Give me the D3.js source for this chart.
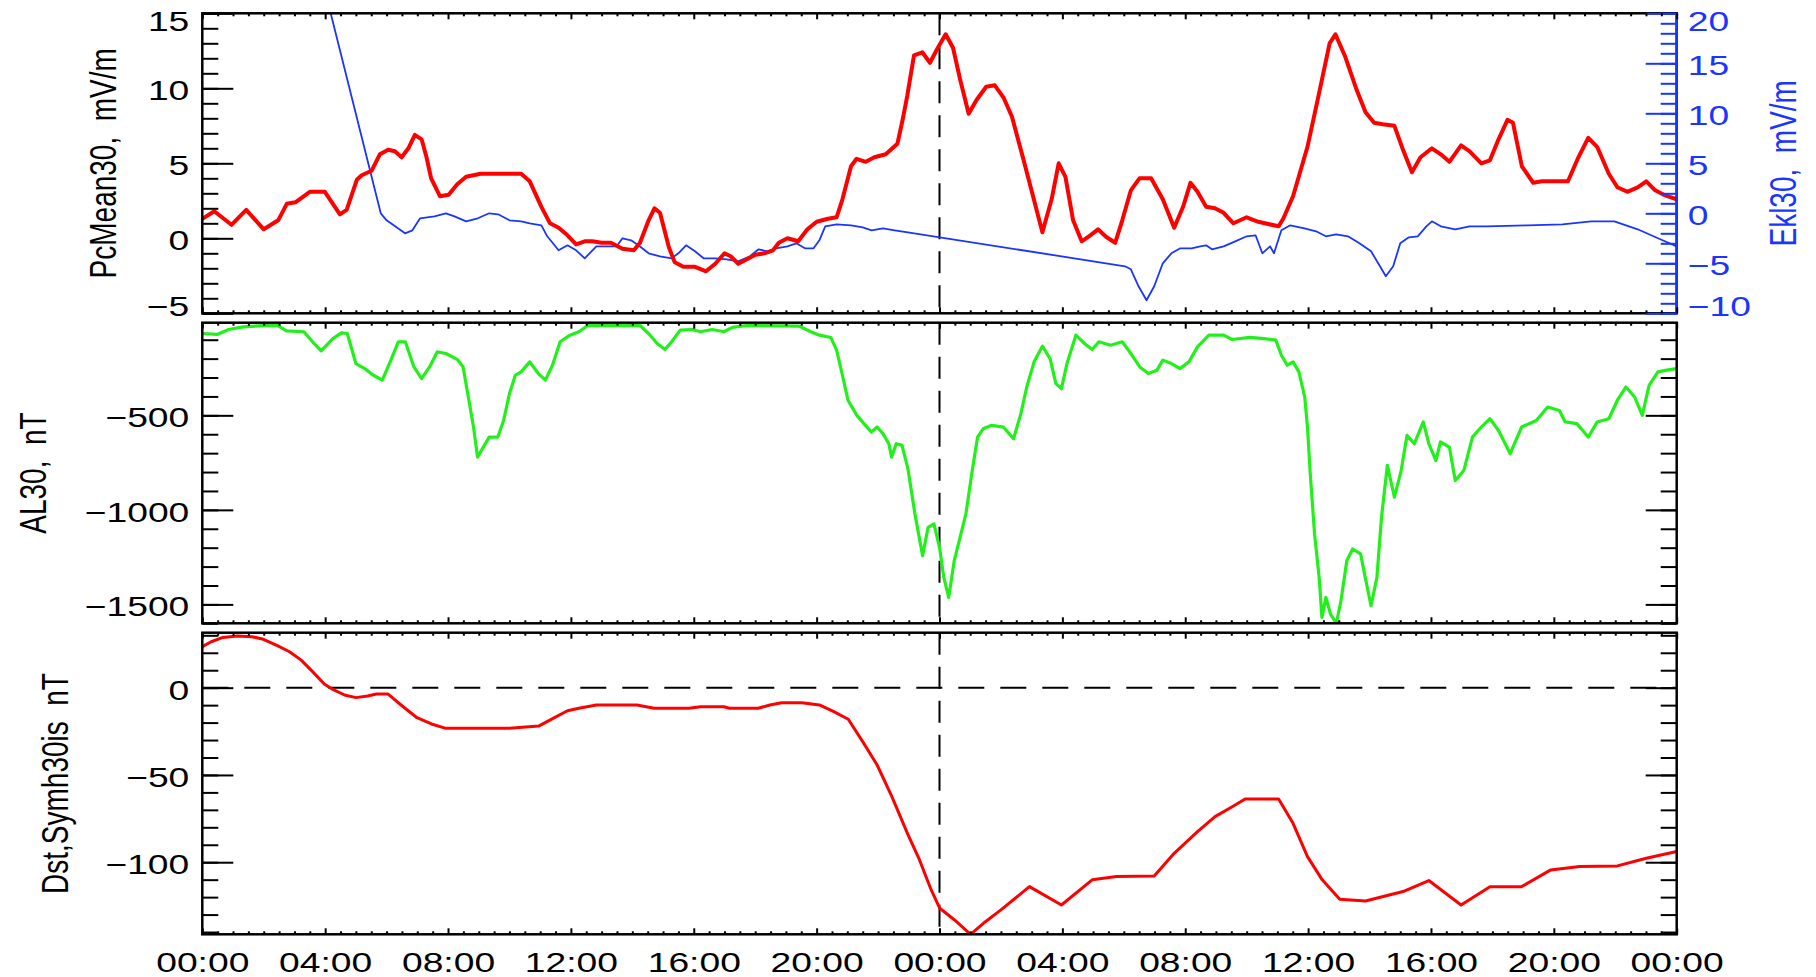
<!DOCTYPE html>
<html>
<head>
<meta charset="utf-8">
<script src="https://cdn.jsdelivr.net/npm/d3@7"></script>
<style>
html, body { margin: 0; padding: 0; background: #fff; }
svg { display: block; }
text { font-family: "Liberation Sans", Arial, sans-serif; font-size: 28px; }
</style>
</head>
<body>
<div id="root"></div>
<script>
// time is hours from the first 00:00 (two days shown)
var hourTicks = [0, 4, 8, 12, 16, 20, 24, 28, 32, 36, 40, 44, 48];
var timeLabels = ["00:00", "04:00", "08:00", "12:00", "16:00", "20:00", "00:00",
                  "04:00", "08:00", "12:00", "16:00", "20:00", "00:00"];

var pcTicks = [-5, 0, 5, 10, 15];
var ekTicks = [-10, -5, 0, 5, 10, 15, 20];
var alTicks = [-1500, -1000, -500];
var dstTicks = [-100, -50, 0];

// PcMean30, mV/m  [hour, value]
var pcMean30 = [[0,1.3],[0.39,1.8],[0.95,0.9],[1.43,1.9],[2.0,0.6],[2.47,1.2],[2.75,2.3],[3.03,2.4],
  [3.5,3.1],[3.99,3.1],[4.48,1.6],[4.7,1.9],[5.03,3.9],[5.19,4.2],[5.51,4.5],[5.78,5.6],[6.05,5.9],
  [6.27,5.8],[6.49,5.4],[6.71,6.0],[6.92,6.9],[7.14,6.6],[7.3,5.4],[7.45,4.0],[7.74,2.8],[8.02,2.9],
  [8.3,3.6],[8.59,4.1],[9.06,4.3],
  [9.81,4.3],[10.38,4.3],[10.66,3.8],[11.04,2.1],[11.32,1.0],[11.6,0.7],[11.89,0.2],[12.17,-0.4],
  [12.45,-0.2],[12.7,-0.2],[13.0,-0.3],[13.3,-0.3],[13.68,-0.7],[14.05,-0.8],[14.25,-0.3],[14.53,1.2],
  [14.72,2.0],[14.9,1.7],[15.19,-0.6],[15.38,-1.6],[15.66,-1.9],[16.04,-1.9],[16.4,-2.2],[16.7,-1.7],
  [17.0,-1.0],[17.2,-1.2],[17.45,-1.7],[17.73,-1.4],[18.01,-1.1],[18.3,-1.0],[18.58,-0.8],[18.77,-0.3],
  [19.05,0.0],[19.4,-0.2],[19.7,0.6],[20.0,1.1],[20.37,1.3],[20.65,1.4],[20.84,2.6],[21.12,4.8],
  [21.3,5.3],[21.6,5.1],[21.88,5.4],[22.25,5.6],[22.63,6.3],[22.8,7.9],[22.95,9.5],[23.17,12.2],
  [23.44,12.4],[23.69,11.7],[23.92,12.6],[24.2,13.6],[24.44,12.7],[24.67,10.6],[24.95,8.3],[25.2,9.2],
  [25.52,10.1],[25.8,10.2],[26.08,9.4],[26.36,8.1],[26.74,5.2],[27.02,3.0],[27.35,0.4],[27.65,2.6],
  [27.88,5.0],[28.1,4.1],[28.35,1.2],[28.63,-0.2],[28.91,0.2],[29.16,0.6],[29.42,0.1],[29.72,-0.3],
  [29.95,1.2],[30.23,3.2],[30.51,4.0],[30.89,4.0],[31.27,2.6],[31.64,0.7],[31.93,2.1],[32.17,3.7],
  [32.4,3.1],[32.68,2.1],[32.97,2.0],[33.25,1.7],[33.57,1.0],[34.0,1.4],[34.38,1.1],[35.04,0.8],
  [35.19,1.3],[35.51,2.8],[35.98,6.1],[36.36,9.7],[36.7,13.0],[36.89,13.6],[37.21,12.1],[37.58,9.9],
  [37.87,8.4],[38.15,7.7],[38.43,7.6],[38.81,7.5],[39.09,5.9],[39.38,4.4],[39.66,5.4],[40.03,6.0],
  [40.32,5.6],[40.6,5.1],[40.98,6.2],[41.26,5.8],[41.64,5.0],[41.92,5.2],[42.2,6.6],[42.49,7.9],
  [42.67,7.7],[42.96,4.8],[43.33,3.7],[43.61,3.8],[44.46,3.8],[44.8,5.4],[45.12,6.7],[45.41,6.1],
  [45.79,4.3],[46.07,3.4],[46.39,3.1],[46.73,3.4],[47.01,3.8],[47.3,3.2],[47.58,2.9],[48.0,2.6]];

// Ekl30, mV/m  [hour, value]
var ekl30 = [[3.9,23.4],[4.18,20],[5.81,0.0],[6.0,-0.7],[6.6,-2.0],[6.84,-1.7],
  [7.09,-0.5],[7.56,-0.3],[7.93,0.0],[8.21,-0.3],[8.59,-0.8],[8.97,-0.5],[9.34,0.0],[9.63,-0.1],
  [10.0,-0.7],[10.38,-0.8],[10.66,-1.0],[11.04,-1.2],[11.23,-2.3],[11.6,-3.7],[11.89,-3.2],[12.17,-3.7],
  [12.45,-4.5],[12.83,-3.3],[13.2,-3.3],[13.49,-3.3],[13.68,-2.5],[13.96,-2.7],[14.24,-3.3],[14.53,-4.0],
  [14.9,-4.3],[15.28,-4.5],[15.5,-4.0],[15.75,-3.2],[16.04,-3.8],[16.32,-4.5],[16.7,-4.5],[17.07,-4.6],
  [17.45,-4.8],[17.83,-4.3],[18.11,-3.6],[18.4,-3.8],[18.68,-3.5],[19.05,-3.3],[19.34,-3.0],[19.62,-3.5],
  [19.9,-3.5],[20.09,-2.7],[20.28,-1.3],[20.65,-1.1],[21.12,-1.2],[21.5,-1.4],[21.79,-1.7],[22.16,-1.5],
  [22.54,-1.7],[22.97,-1.9],[30.04,-5.3],[30.23,-5.6],[30.48,-7.3],[30.74,-8.7],[30.99,-7.3],[31.27,-5.0],
  [31.55,-4.0],[31.84,-3.5],[32.21,-3.5],[32.49,-3.3],[32.68,-3.2],[32.87,-3.6],[33.25,-3.3],[33.63,-2.8],
  [34.0,-2.3],[34.29,-2.2],[34.51,-4.0],[34.76,-3.3],[34.89,-4.0],[35.13,-1.7],[35.42,-1.2],[35.88,-1.5],
  [36.26,-1.8],[36.58,-2.3],[36.91,-2.1],[37.3,-2.3],[37.67,-3.0],[38.05,-3.8],[38.34,-5.3],[38.53,-6.3],
  [38.77,-5.3],[39.0,-3.0],[39.28,-2.4],[39.57,-2.3],[39.85,-1.3],[40.03,-0.8],[40.32,-1.3],[40.79,-1.6],
  [41.26,-1.3],[41.82,-1.3],[43.15,-1.2],[44.28,-1.1],[45.22,-0.8],[45.97,-0.8],[46.73,-1.6],[47.39,-2.5],
  [48.0,-3.3]];

// AL30, nT  [hour, value]
var al30 = [[0,-67],[0.48,-72],[0.86,-46],[1.33,-32],[2.0,-25],[2.46,-25],[2.74,-53],[3.31,-58],
  [3.59,-111],[3.87,-159],[4.25,-94],[4.53,-64],[4.72,-67],[5.0,-226],[5.29,-253],[5.57,-288],
  [5.86,-314],[6.14,-208],[6.38,-111],[6.61,-111],[6.89,-244],[7.14,-306],[7.4,-244],[7.65,-164],
  [7.93,-173],[8.31,-205],[8.49,-244],[8.68,-420],[8.83,-562],[8.96,-721],[9.15,-668],[9.34,-615],
  [9.62,-615],[9.81,-527],[10.0,-385],[10.19,-288],[10.38,-270],[10.66,-217],[10.94,-279],[11.17,-314],
  [11.4,-235],[11.65,-111],[11.97,-76],[12.26,-58],[12.55,-25],[13.02,-25],[14.25,-25],[14.53,-67],
  [14.81,-120],[15.06,-152],[15.28,-111],[15.56,-49],[15.94,-46],[16.22,-58],[16.6,-46],[16.98,-58],
  [17.26,-35],[17.73,-25],[19.43,-28],[19.81,-58],[20.09,-76],[20.46,-88],[20.65,-155],[20.84,-288],
  [21.02,-420],[21.31,-500],[21.59,-553],[21.78,-588],[21.97,-562],[22.16,-597],[22.35,-650],[22.44,-721],
  [22.59,-650],[22.78,-659],[22.97,-780],[23.2,-1021],[23.45,-1242],[23.63,-1092],[23.82,-1074],
  [24.0,-1198],[24.14,-1357],[24.3,-1463],[24.48,-1269],[24.67,-1145],[24.86,-1021],[25.05,-809],
  [25.24,-615],[25.42,-571],[25.7,-553],[26.08,-562],[26.41,-624],[26.65,-491],[26.84,-350],[27.08,-217],
  [27.35,-134],[27.6,-200],[27.79,-332],[27.97,-359],[28.15,-226],[28.44,-76],[28.72,-120],[28.97,-152],
  [29.19,-111],[29.57,-129],[29.95,-111],[30.23,-173],[30.52,-244],[30.8,-279],[31.08,-261],[31.27,-208],
  [31.55,-226],[31.83,-253],[32.12,-217],[32.4,-138],[32.77,-76],[33.25,-76],[33.53,-99],[34.1,-88],
  [34.57,-94],[34.95,-102],[35.13,-182],[35.32,-235],[35.51,-217],[35.7,-270],[35.89,-403],[35.98,-562],
  [36.07,-809],[36.21,-1127],[36.36,-1357],[36.45,-1569],[36.58,-1463],[36.73,-1551],[36.92,-1600],
  [37.07,-1481],[37.26,-1269],[37.45,-1207],[37.71,-1233],[37.86,-1357],[38.05,-1507],[38.24,-1357],
  [38.39,-1039],[38.58,-765],[38.81,-933],[39.03,-792],[39.22,-606],[39.46,-650],[39.75,-535],[39.93,-650],
  [40.16,-739],[40.31,-641],[40.6,-668],[40.79,-845],[41.07,-792],[41.35,-615],[41.64,-562],[41.92,-518],
  [42.2,-580],[42.58,-703],[42.95,-562],[43.43,-527],[43.8,-456],[44.18,-474],[44.37,-535],[44.75,-544],
  [45.12,-615],[45.41,-535],[45.79,-518],[46.07,-420],[46.35,-350],[46.63,-403],[46.88,-500],[47.1,-341],
  [47.39,-270],[47.67,-261],[48.0,-253]];

// Dst / SymH 30, nT  [hour, value]
var dstSymh = [[0,23.5],[0.29,26.3],[0.67,28.8],[1.14,29.6],[1.62,29.2],[1.99,27.7],[2.46,23.9],
  [2.84,20.6],[3.22,15.8],[3.59,9.2],[3.97,2.1],[4.25,-1.0],[4.63,-4.2],[5.0,-5.7],[5.38,-4.8],
  [5.67,-3.6],[6.04,-3.6],[6.51,-10.5],[6.99,-17.2],[7.46,-20.8],[7.93,-23.3],[8.5,-23.3],[10.0,-23.3],
  [10.95,-22.0],[11.42,-17.6],[11.89,-13.2],[12.26,-11.8],[12.83,-9.9],[14.15,-9.9],[14.71,-11.8],
  [15.84,-11.8],[16.22,-10.9],[16.98,-10.9],[17.16,-11.8],[18.1,-11.8],[18.48,-9.9],[18.86,-8.6],
  [19.52,-8.6],[20.09,-9.9],[20.56,-13.7],[21.03,-18.1],[21.5,-30.9],[21.97,-44.3],[22.45,-62.4],
  [22.97,-84.0],[23.35,-98.7],[23.73,-115.9],[24.01,-126.4],[24.49,-133.1],[25.01,-141.3],[25.43,-135],
  [26.0,-127.3],[26.93,-114],[27.97,-124.5],[28.97,-110.1],[29.76,-108.2],[30.99,-107.9],[31.64,-94.9],
  [32.4,-82.5],[32.97,-73.9],[33.53,-68.2],[33.95,-63.8],[35.04,-63.8],[35.51,-77.7],[35.98,-96.8],
  [36.46,-110.1],[37.03,-121.2],[37.87,-122.2],[39.09,-116.8],[39.93,-110.5],[40.98,-124.5],
  [41.92,-114],[42.95,-114],[43.9,-104.4],[44.84,-102.5],[46.07,-102.1],[47.01,-97.7],[48.0,-93.9]];

var W = 1816, H = 977;
var left = 202.3, right = 1676.7;
var sx = 1.33; // the original lettering is stretched sideways
var blue = "#1a35ff", red = "#ff0000", green = "#22f01a";

var panels = [
  { top: 13.3, bottom: 313.3 },
  { top: 322.7, bottom: 623.3 },
  { top: 632.7, bottom: 934.3 }
];

var svg = d3.select("#root").append("svg").attr("width", W).attr("height", H);

var x = d3.scaleLinear().domain([0, 48]).range([left, right]);
var yPc = d3.scaleLinear().domain([-5, 15]).range([panels[0].bottom, panels[0].top]);
var yEk = d3.scaleLinear().domain([-10, 20]).range([panels[0].bottom, panels[0].top]);
var yAl = d3.scaleLinear().domain([-1600, -10]).range([panels[1].bottom, panels[1].top]);
var yDst = d3.scaleLinear().domain([-141.3, 31.5]).range([panels[2].bottom, panels[2].top]);

var fmt = d3.format("");

function yAxis(scale, majors, minors, xpos, side, color, labels, p) {
  var mk = side === "left" ? d3.axisLeft : d3.axisRight;
  var gMin = svg.append("g").attr("transform", "translate(" + xpos + ",0)")
    .call(mk(scale).tickValues(minors).tickSizeInner(-16).tickSizeOuter(0).tickFormat(""));
  var gMaj = svg.append("g").attr("transform", "translate(" + xpos + ",0)")
    .call(mk(scale).tickValues(majors).tickSizeInner(-31).tickSizeOuter(0)
      .tickPadding(side === "left" ? 13 : 11).tickFormat(labels ? fmt : ""));
  [gMin, gMaj].forEach(function(g) {
    g.attr("font-size", null).attr("font-family", null);
    g.select(".domain").remove();
    g.selectAll("line").attr("stroke", color).attr("stroke-width", 2);
  });
  gMaj.selectAll("text")
    .attr("fill", color)
    .attr("dy", null)
    .attr("y", function(d) {
      var b = scale(d) + 11.5;
      b = Math.max(p.top + 17.5, Math.min(p.bottom + 2, b));
      return b - scale(d);
    })
    .attr("x", function() { return +d3.select(this).attr("x") / sx; })
    .attr("transform", "scale(" + sx + ",1)");
}

function xAxes(p, withLabels) {
  var minors = d3.range(0, 48.01, 0.5).filter(function(h) { return h % 4 !== 0; });
  var pairs = [[d3.axisBottom, p.bottom], [d3.axisTop, p.top]];
  pairs.forEach(function(pr) {
    var gm = svg.append("g").attr("transform", "translate(0," + pr[1] + ")")
      .call(pr[0](x).tickValues(minors).tickSizeInner(-3).tickSizeOuter(0).tickFormat(""));
    var gM = svg.append("g").attr("transform", "translate(0," + pr[1] + ")")
      .call(pr[0](x).tickValues(hourTicks).tickSizeInner(-6).tickSizeOuter(0)
        .tickFormat(function(d, i) { return (withLabels && pr[1] === p.bottom) ? timeLabels[i] : ""; }));
    [gm, gM].forEach(function(g) {
      g.attr("font-size", null).attr("font-family", null);
      g.select(".domain").remove();
      g.selectAll("line").attr("stroke", "#000").attr("stroke-width", 2);
    });
    gM.selectAll("text").attr("fill", "#000").attr("dy", null).attr("y", 37.4)
      .attr("transform", "scale(" + sx + ",1)");
  });
}

function title(txt, bx, cy, color) {
  svg.append("text")
    .attr("transform", "translate(" + bx + "," + cy + ") scale(" + sx + ",1) rotate(-90)")
    .attr("text-anchor", "middle")
    .attr("fill", color)
    .style("white-space", "pre")
    .text(txt);
}

// clip regions
panels.forEach(function(p, i) {
  svg.append("clipPath").attr("id", "clip" + i)
    .append("rect").attr("x", left).attr("y", p.top)
    .attr("width", right - left).attr("height", p.bottom - p.top);
});

function drawLine(data, y, color, width, clip) {
  svg.append("path")
    .datum(data)
    .attr("clip-path", "url(#" + clip + ")")
    .attr("fill", "none")
    .attr("stroke", color)
    .attr("stroke-width", width)
    .attr("stroke-linejoin", "round")
    .attr("d", d3.line().x(function(d) { return x(d[0]); }).y(function(d) { return y(d[1]); }));
}

// dashed guides
panels.forEach(function(p) {
  svg.append("line")
    .attr("x1", x(24)).attr("x2", x(24)).attr("y1", p.top).attr("y2", p.bottom)
    .attr("stroke", "#000").attr("stroke-width", 2).attr("stroke-dasharray", "22,12");
});
svg.append("line")
  .attr("x1", left).attr("x2", right).attr("y1", yDst(0)).attr("y2", yDst(0))
  .attr("stroke", "#000").attr("stroke-width", 2).attr("stroke-dasharray", "26,16");

// series
drawLine(ekl30, yEk, blue, 1.8, "clip0");
drawLine(pcMean30, yPc, red, 4, "clip0");
drawLine(al30, yAl, green, 3.2, "clip1");
drawLine(dstSymh, yDst, red, 3, "clip2");

// frames
panels.forEach(function(p) {
  svg.append("rect").attr("x", left).attr("y", p.top)
    .attr("width", right - left).attr("height", p.bottom - p.top)
    .attr("fill", "none").attr("stroke", "#000").attr("stroke-width", 2.5);
});
svg.append("line").attr("x1", right).attr("x2", right)
  .attr("y1", panels[0].top).attr("y2", panels[0].bottom)
  .attr("stroke", blue).attr("stroke-width", 2.5);

// axes
yAxis(yPc, pcTicks, d3.range(-5, 15.01, 1), left, "left", "#000", true, panels[0]);
yAxis(yEk, ekTicks, d3.range(-10, 20.01, 1), right, "right", blue, true, panels[0]);
yAxis(yAl, alTicks, d3.range(-1600, -99, 100), left, "left", "#000", true, panels[1]);
yAxis(yAl, alTicks, d3.range(-1600, -99, 100), right, "right", "#000", false, panels[1]);
yAxis(yDst, dstTicks, d3.range(-140, 30.01, 10), left, "left", "#000", true, panels[2]);
yAxis(yDst, dstTicks, d3.range(-140, 30.01, 10), right, "right", "#000", false, panels[2]);

xAxes(panels[0], false);
xAxes(panels[1], false);
xAxes(panels[2], true);

title("PcMean30,  mV/m", 115.5, (panels[0].top + panels[0].bottom) / 2, "#000");
title("AL30,  nT", 46.3, (panels[1].top + panels[1].bottom) / 2, "#000");
title("Dst,Symh30is  nT", 68, (panels[2].top + panels[2].bottom) / 2, "#000");
title("Ekl30,  mV/m", 1796, (panels[0].top + panels[0].bottom) / 2, blue);
</script>
</body>
</html>
